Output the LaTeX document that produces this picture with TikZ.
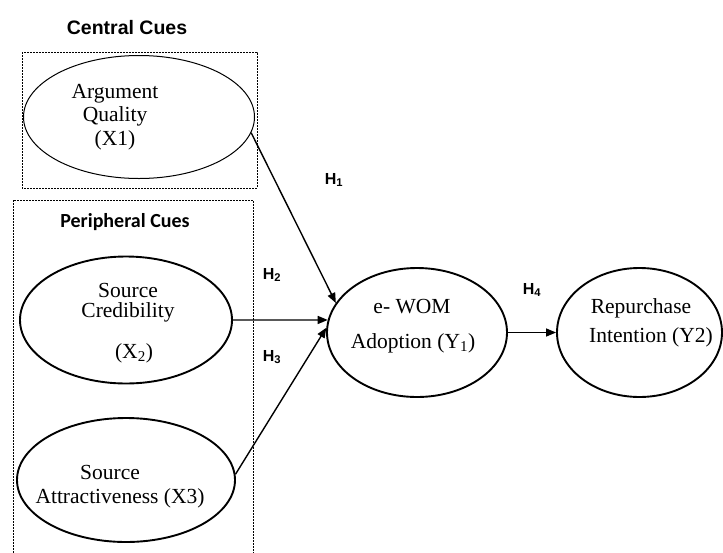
\documentclass[tikz,border=0pt]{standalone}
\usepackage{fontspec}
\setmainfont{Liberation Serif}
\newfontfamily\labfont{Liberation Sans}
\newfontfamily\calfont{Carlito}
\usetikzlibrary{shapes.geometric,arrows.meta}
\begin{document}
\begin{tikzpicture}[x=1pt,y=-1pt,
  ell/.style={draw,ellipse,line width=1.9pt,inner sep=0pt},
  thinell/.style={draw,ellipse,line width=1pt,inner sep=0pt},
  txt/.style={inner sep=0pt,align=center,font=\fontsize{21.5}{24}\selectfont},
  hlab/.style={inner sep=0pt,font=\labfont\bfseries\fontsize{16}{18}\selectfont},
  grp/.style={draw,line width=0.8pt,dash pattern=on 2pt off 1pt},
  conn/.style={line width=1.4pt,-{Triangle[length=10pt,width=8pt]}}]
\useasboundingbox (0,0) rectangle (723,552);
% group boxes
\draw[grp] (22,52) rectangle (257,188);
\draw[grp] (13,556) -- (13,200) -- (253,200) -- (253,556);
\node[inner sep=0pt,font=\labfont\bfseries\fontsize{19.5}{22}\selectfont] (cc) at (127,28) {Central Cues};
\node[inner sep=0pt,font=\calfont\bfseries\fontsize{20}{22}\selectfont] (pc) at (125,222) {Peripheral Cues};
% ellipses
\node[thinell,minimum width=231,minimum height=123] (aq) at (139,117) {};
\node[ell,minimum width=212,minimum height=127] (sc) at (126,320) {};
\node[ell,minimum width=218,minimum height=124] (sa) at (126,480) {};
\node[ell,minimum width=180,minimum height=129] (ew) at (417,332.5) {};
\node[ell,minimum width=165,minimum height=129] (rp) at (639.5,332.5) {};
% texts
\node[txt,font=\fontsize{21.5}{23.5}\selectfont] (aqt) at (115,117) {Argument\\Quality\\(X1)};
\node[txt,font=\fontsize{21.5}{20}\selectfont] (sct) at (128,303) {Source\\Credibility};
\node[txt] (scx) at (134,353) {(X\textsubscript{2})};
\node[txt] (sat1) at (110,472) {Source};
\node[txt] (sat2) at (120,498) {Attractiveness (X3)};
\node[txt] (ewt1) at (412,307) {e- WOM};
\node[txt] (ewt2) at (413,343) {Adoption (Y\textsubscript{1})};
\node[txt] (rpt1) at (641,308) {Repurchase};
\node[txt] (rpt2) at (651,337) {Intention (Y2)};
% connectors
\draw[conn] (aq.-8) -- (ew.160);
\draw[conn] (sc.east) -- (ew.172);
\draw[conn] (sa.3) -- (ew.177);
\draw[conn] (ew.east) -- (rp.west);
% hypothesis labels
\node[hlab] (h1) at (334,180) {H\textsubscript{1}};
\node[hlab] (h2) at (272,275) {H\textsubscript{2}};
\node[hlab] (h3) at (272,357) {H\textsubscript{3}};
\node[hlab] (h4) at (532,290) {H\textsubscript{4}};
\end{tikzpicture}
\end{document}
